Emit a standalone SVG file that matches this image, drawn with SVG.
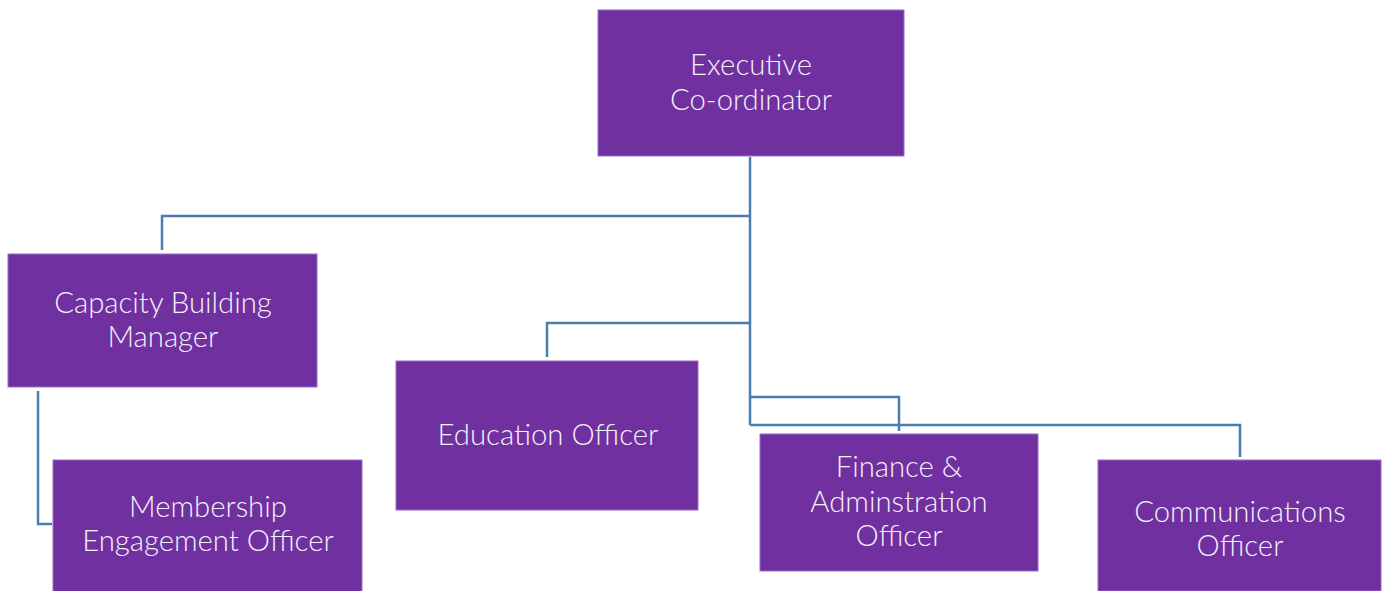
<svg xmlns="http://www.w3.org/2000/svg" width="1386" height="591" viewBox="0 0 1386 591">
<style>
.box{fill:#7030A0;stroke:#9b6bc4;stroke-width:1}
.lbl{fill:#f4f0f8;font-family:Lato,"Open Sans",sans-serif;font-weight:300;font-size:29.3px;text-anchor:middle}
.conn{fill:none;stroke:#4a7eb0;stroke-width:2.5}
</style>
<rect width="1386" height="591" fill="#ffffff"/>
<g id="connectors">
<path class="conn" d="M750,157 V425"/>
<path class="conn" d="M750,216 H162 V250"/>
<path class="conn" d="M750,323 H547 V357"/>
<path class="conn" d="M750,397 H899 V431"/>
<path class="conn" d="M750,425 H1240 V457"/>
<path class="conn" d="M38,391 V524 H52"/>
</g>
<g id="executive">
<rect class="box" x="598" y="10" width="306" height="146"/>
<text class="lbl" x="751" y="75">Executive</text>
<text class="lbl" x="751" y="110">Co-ordinator</text>
</g>
<g id="capacity">
<rect class="box" x="8" y="254" width="309" height="133"/>
<text class="lbl" x="163" y="313">Capacity Building</text>
<text class="lbl" x="163" y="347">Manager</text>
</g>
<g id="membership">
<rect class="box" x="53" y="460" width="309" height="132"/>
<text class="lbl" x="208" y="517">Membership</text>
<text class="lbl" x="208" y="551">Engagement Officer</text>
</g>
<g id="education">
<rect class="box" x="396" y="361" width="302" height="149"/>
<text class="lbl" x="548" y="445">Education Officer</text>
</g>
<g id="finance">
<rect class="box" x="760" y="434" width="278" height="137"/>
<text class="lbl" x="899" y="477">Finance &amp;</text>
<text class="lbl" x="899" y="512">Adminstration</text>
<text class="lbl" x="899" y="546">Officer</text>
</g>
<g id="communications">
<rect class="box" x="1098" y="460" width="283" height="131"/>
<text class="lbl" x="1240" y="522">Communications</text>
<text class="lbl" x="1240" y="556">Officer</text>
</g>
</svg>
